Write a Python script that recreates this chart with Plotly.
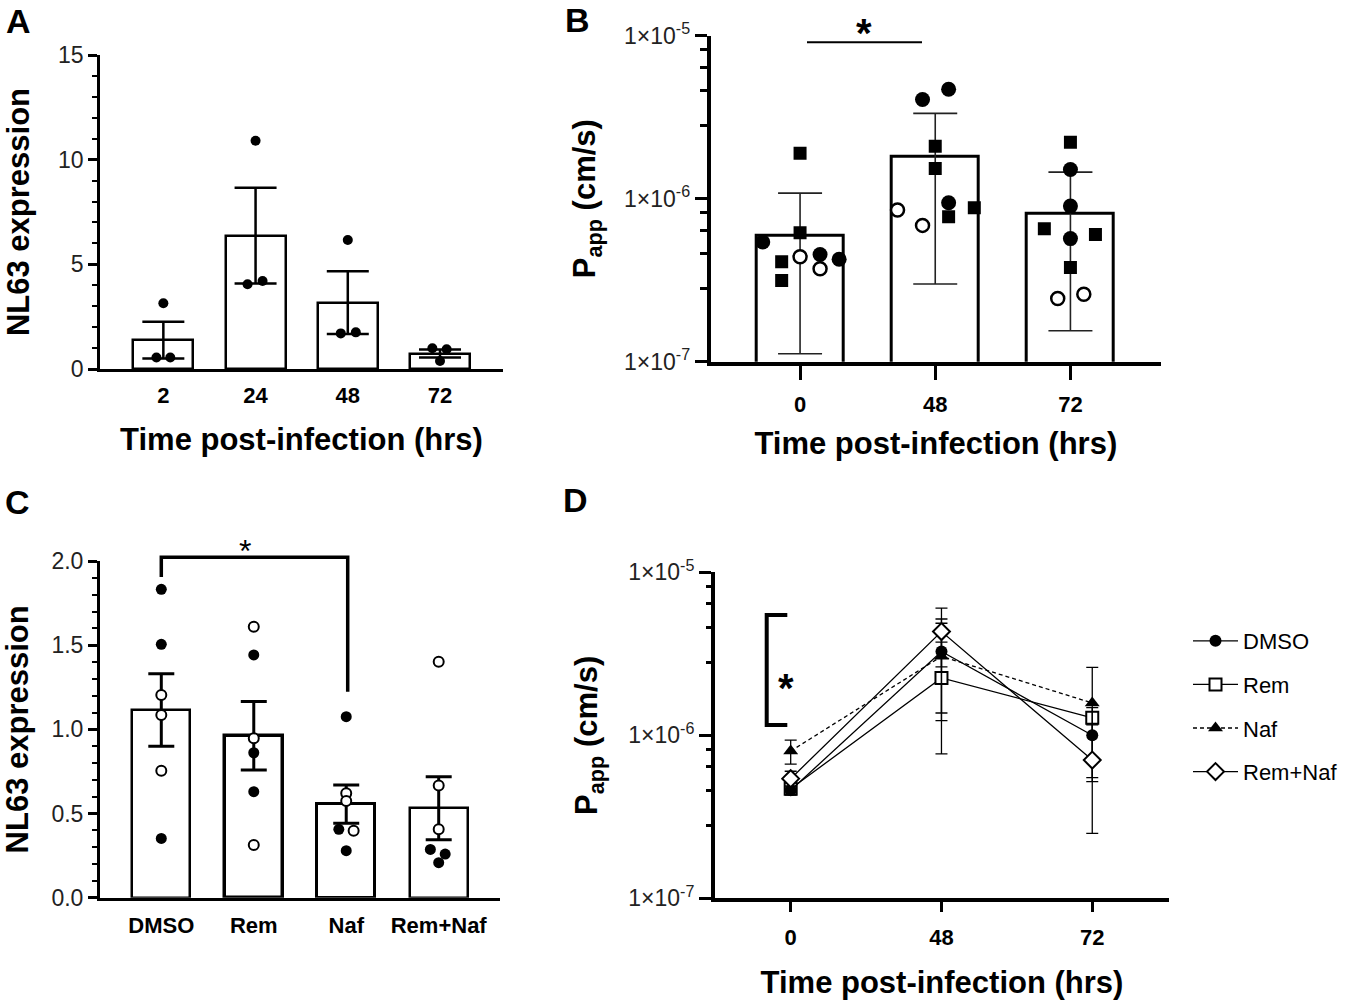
import plotly.graph_objects as go

W, H = 1350, 1003
FONT = "Liberation Sans, Arial, Helvetica, sans-serif"

# ---------------- Panel A data ----------------
a_times = ["2", "24", "48", "72"]
a_means = [1.38, 6.37, 3.17, 0.74]
a_sem = [0.88, 2.29, 1.50, 0.19]
a_points = [[3.14, 0.55, 0.55], [10.9, 4.05, 4.20], [6.16, 1.70, 1.75], [0.99, 0.94, 0.38]]
a_jitter = [[0, -0.075, 0.075], [0, -0.087, 0.076], [0, -0.076, 0.087], [-0.083, 0.072, 0]]

# ---------------- Panel B data ----------------
b_times = ["0", "48", "72"]
b_means = [5.97e-7, 1.82e-6, 8.05e-7]
b_sd = [4.85e-7, 1.52e-6, 6.5e-7]
b_values = [
    [1.90e-6, 6.18e-7, 4.10e-7, 3.15e-7, 5.42e-7, 4.55e-7, 4.25e-7, 4.40e-7, 3.72e-7],
    [4.06e-6, 4.69e-6, 9.45e-7, 2.10e-6, 1.53e-6, 8.80e-7, 7.76e-7, 8.52e-7, 6.86e-7],
    [2.22e-6, 6.55e-7, 6.04e-7, 3.78e-7, 1.51e-6, 9.01e-7, 5.69e-7, 2.59e-7, 2.44e-7],
]
b_kind = [
    ["sq", "sq", "sq", "sq", "fc", "fc", "fc", "oc", "oc"],
    ["fc", "fc", "fc", "sq", "sq", "sq", "sq", "oc", "oc"],
    ["sq", "sq", "sq", "sq", "fc", "fc", "fc", "oc", "oc"],
]
b_jitter = [
    [0, 0, -0.136, -0.136, -0.276, 0.148, 0.289, 0, 0.148],
    [-0.094, 0.099, 0.099, 0, 0, 0.289, 0.099, -0.279, -0.094],
    [0, -0.193, 0.185, 0, 0, 0, 0, 0.099, -0.094],
]

# ---------------- Panel C data ----------------
c_groups = ["DMSO", "Rem", "Naf", "Rem+Naf"]
c_means = [1.115, 0.962, 0.556, 0.531]
c_sem = [0.216, 0.203, 0.114, 0.187]
c_points = [
    [1.832, 1.505, 1.204, 1.085, 0.754, 0.352],
    [1.610, 1.442, 0.947, 0.861, 0.630, 0.313],
    [1.075, 0.620, 0.575, 0.406, 0.398, 0.279],
    [1.402, 0.667, 0.406, 0.287, 0.259, 0.208],
]
c_filled = [
    [1, 1, 0, 0, 0, 1],
    [0, 1, 0, 1, 1, 0],
    [1, 0, 0, 1, 0, 1],
    [0, 0, 0, 1, 1, 1],
]
c_jitter = [
    [0, 0, 0, 0, 0, 0],
    [0, 0, 0, 0, 0, 0],
    [0, 0, 0, -0.08, 0.08, 0],
    [0, 0, 0, -0.09, 0.07, 0],
]
c_outline = [2.5, 3.5, 3.0, 2.5]

# ---------------- Panel D data ----------------
d_times = ["0", "48", "72"]
d_series = ["DMSO", "Rem", "Naf", "Rem+Naf"]
d_dmso = [4.60e-7, 3.27e-6, 1.00e-6]
d_dmso_err = [0.30e-7, 1.90e-6, 4.80e-7]
d_rem = [4.70e-7, 2.25e-6, 1.28e-6]
d_rem_err = [0.30e-7, 1.48e-6, 1.00e-7]
d_naf = [8.00e-7, 3.05e-6, 1.58e-6]
d_naf_err = [1.35e-7, 1.82e-6, 1.03e-6]
d_remnaf = [5.42e-7, 4.33e-6, 7.05e-7]
d_remnaf_err = [0.60e-7, 1.70e-6, 4.55e-7]

log_ticks = [1e-7, 1e-6, 1e-5]
log_ticktext = ["1×10<sup>-7</sup>", "1×10<sup>-6</sup>", "1×10<sup>-5</sup>"]
log_minor = [m * d for d in (1e-7, 1e-6) for m in (2.8, 4.6, 6.4, 8.2)]


def fx(p):
    return p / W


def fy(p):
    return 1 - p / H


fig = go.Figure()

# ---------- A ----------
fig.add_trace(go.Bar(
    x=list(range(len(a_times))), y=a_means, width=0.65,
    marker=dict(color="white", line=dict(color="black", width=2.5)),
    error_y=dict(type="data", array=a_sem, color="black", thickness=2.5, width=21),
    xaxis="x", yaxis="y", showlegend=False))
ax_, ay_ = [], []
for i, (pts, jit) in enumerate(zip(a_points, a_jitter)):
    for v, j in zip(pts, jit):
        ax_.append(i + j)
        ay_.append(v)
fig.add_trace(go.Scatter(x=ax_, y=ay_, mode="markers",
                         marker=dict(symbol="circle", size=10, color="black"),
                         xaxis="x", yaxis="y", showlegend=False))

# ---------- B ----------
fig.add_trace(go.Bar(
    x=list(range(len(b_times))), y=b_means, width=0.644,
    marker=dict(color="white", line=dict(color="black", width=3)),
    error_y=dict(type="data", array=b_sd, color="#222", thickness=1.6, width=22),
    xaxis="x2", yaxis="y2", showlegend=False))
kind_style = {
    "sq": dict(symbol="square", size=13, color="black", line=dict(color="black", width=0)),
    "fc": dict(symbol="circle", size=15, color="black", line=dict(color="black", width=0)),
    "oc": dict(symbol="circle", size=13, color="white", line=dict(color="black", width=2.5)),
}
for k in ["sq", "fc", "oc"]:
    xs, ys = [], []
    for i in range(len(b_times)):
        for v, kk, j in zip(b_values[i], b_kind[i], b_jitter[i]):
            if kk == k:
                xs.append(i + j)
                ys.append(v)
    fig.add_trace(go.Scatter(x=xs, y=ys, mode="markers", marker=kind_style[k],
                             xaxis="x2", yaxis="y2", showlegend=False))

# ---------- C ----------
fig.add_trace(go.Bar(
    x=list(range(len(c_groups))), y=c_means, width=0.63,
    marker=dict(color="white", line=dict(color="black", width=c_outline)),
    error_y=dict(type="data", array=c_sem, color="black", thickness=3, width=13),
    xaxis="x3", yaxis="y3", showlegend=False))
for filled in (1, 0):
    xs, ys = [], []
    for i in range(len(c_groups)):
        for v, f, j in zip(c_points[i], c_filled[i], c_jitter[i]):
            if f == filled:
                xs.append(i + j)
                ys.append(v)
    mk = (dict(symbol="circle", size=11, color="black") if filled else
          dict(symbol="circle", size=10, color="white", line=dict(color="black", width=2)))
    fig.add_trace(go.Scatter(x=xs, y=ys, mode="markers", marker=mk,
                             xaxis="x3", yaxis="y3", showlegend=False))

# ---------- D ----------
d_x = list(range(len(d_times)))
d_specs = [
    ("Rem", d_rem, d_rem_err, dict(symbol="square", size=12, color="white", line=dict(color="black", width=2)), "solid", 2),
    ("DMSO", d_dmso, d_dmso_err, dict(symbol="circle", size=12, color="black", line=dict(color="black", width=0)), "solid", 1),
    ("Naf", d_naf, d_naf_err, dict(symbol="triangle-up", size=13, color="black", line=dict(color="black", width=0)), "4px,3px", 3),
    ("Rem+Naf", d_remnaf, d_remnaf_err, dict(symbol="diamond", size=13, color="white", line=dict(color="black", width=2)), "solid", 4),
]
for name, vals, errs, mk, dash, rank in d_specs:
    fig.add_trace(go.Scatter(
        x=d_x, y=vals, name=name, mode="lines+markers",
        line=dict(color="black", width=1.3, dash=dash), marker=mk,
        error_y=dict(type="data", array=errs, color="black", thickness=1.3, width=6),
        xaxis="x4", yaxis="y4", legendgroup=name, legendrank=rank, showlegend=True))

# ---------- axes ----------
ytickfont = dict(family=FONT, size=23, color="#222")
xtickfont = dict(family=FONT, size=22, color="black", weight="bold")
titlefont = dict(family=FONT, size=31, color="black", weight="bold")

common = dict(showgrid=False, zeroline=False, showline=True, linecolor="black", automargin=False)

fig.update_layout(
    width=W, height=H, margin=dict(l=0, r=0, t=0, b=0),
    paper_bgcolor="white", plot_bgcolor="white",
    font=dict(family=FONT, color="black"),
    bargap=0,
    xaxis=dict(**common, domain=[fx(100), fx(503)], range=[-0.687, 3.683], anchor="y",
               linewidth=2.5, ticks="", tickvals=list(range(4)), ticktext=a_times,
               tickfont=xtickfont, ticklabelstandoff=5,
               title=dict(text="Time post-infection (hrs)", font=titlefont, standoff=22)),
    yaxis=dict(**common, domain=[fy(369), fy(55)], range=[0, 15], anchor="x",
               linewidth=2.5, ticks="outside", ticklen=9, tickwidth=2.5, tickcolor="black",
               tickvals=[0, 5, 10, 15], tickfont=ytickfont,
               minor=dict(ticks="outside", dtick=1, ticklen=5, tickwidth=2, tickcolor="black"),
               title=dict(text="NL63 expression", font=titlefont, standoff=20)),
    xaxis2=dict(**common, domain=[fx(710.7), fx(1161)], range=[-0.661, 2.67], anchor="y2",
                linewidth=4, ticks="outside", ticklen=14, tickwidth=3, tickcolor="black",
                tickvals=list(range(3)), ticktext=b_times, tickfont=xtickfont,
                ticklabelstandoff=6,
                title=dict(text="Time post-infection (hrs)", font=titlefont, standoff=17)),
    yaxis2=dict(**common, type="log", domain=[fy(361.7), fy(35.7)], range=[-7, -5], anchor="x2",
                linewidth=4, ticks="outside", ticklen=12, tickwidth=3, tickcolor="black",
                tickvals=log_ticks, ticktext=log_ticktext, tickfont=ytickfont,
                minor=dict(ticks="outside", tickmode="array", tickvals=log_minor,
                           ticklen=7, tickwidth=3, tickcolor="black"),
                title=dict(text="P<sub>app</sub> (cm/s)", font=titlefont, standoff=20)),
    xaxis3=dict(**common, domain=[fx(100), fx(500)], range=[-0.663, 3.663], anchor="y3",
                linewidth=3, ticks="", tickvals=list(range(4)), ticktext=c_groups,
                tickfont=xtickfont, ticklabelstandoff=6),
    yaxis3=dict(**common, domain=[fy(897.7), fy(561)], range=[0, 2], anchor="x3",
                linewidth=3, ticks="outside", ticklen=9, tickwidth=2.5, tickcolor="black",
                tickvals=[0, 0.5, 1, 1.5, 2], tickformat=".1f", tickfont=ytickfont,
                minor=dict(ticks="outside", dtick=0.1, ticklen=5, tickwidth=2, tickcolor="black"),
                title=dict(text="NL63 expression", font=titlefont, standoff=18)),
    xaxis4=dict(**common, domain=[fx(715), fx(1169)], range=[-0.502, 2.509], anchor="y4",
                linewidth=4, ticks="outside", ticklen=10, tickwidth=3, tickcolor="black",
                tickvals=d_x, ticktext=d_times, tickfont=xtickfont, ticklabelstandoff=6,
                title=dict(text="Time post-infection (hrs)", font=titlefont, standoff=24)),
    yaxis4=dict(**common, type="log", domain=[fy(898.3), fy(572.3)], range=[-7, -5], anchor="x4",
                linewidth=4, ticks="outside", ticklen=12, tickwidth=3, tickcolor="black",
                tickvals=log_ticks, ticktext=log_ticktext, tickfont=ytickfont,
                minor=dict(ticks="outside", tickmode="array", tickvals=log_minor,
                           ticklen=5, tickwidth=3, tickcolor="black"),
                title=dict(text="P<sub>app</sub> (cm/s)", font=titlefont, standoff=22)),
    legend=dict(x=fx(1188), y=fy(620), xanchor="left", yanchor="top",
                font=dict(family=FONT, size=22, color="black"), itemwidth=45,
                traceorder="grouped", tracegroupgap=12, bgcolor="rgba(0,0,0,0)"),
)

# ---------- panel letters and significance marks ----------
letters = [("A", 18, 21), ("B", 577, 20), ("C", 17, 502), ("D", 575, 500)]
anns = []
for t, px, py in letters:
    anns.append(dict(text=t, x=fx(px), y=fy(py), xref="paper", yref="paper",
                     xanchor="center", yanchor="middle", showarrow=False,
                     font=dict(family=FONT, size=34, color="black", weight="bold")))
for px, py, sz, wt in [(864, 33, 40, "bold"), (245, 551, 32, "normal"), (786, 688, 40, "bold")]:
    anns.append(dict(text="*", x=fx(px), y=fy(py), xref="paper", yref="paper",
                     xanchor="center", yanchor="middle", showarrow=False,
                     font=dict(family=FONT, size=sz, color="black", weight=wt)))
fig.update_layout(annotations=anns)


def path(pts):
    return "M " + " L ".join(f"{fx(a):.5f},{fy(b):.5f}" for a, b in pts)


fig.update_layout(shapes=[
    dict(type="line", xref="paper", yref="paper", x0=fx(807), x1=fx(922), y0=fy(42.3), y1=fy(42.3),
         line=dict(color="black", width=2)),
    dict(type="path", xref="paper", yref="paper",
         path=path([(161.3, 577), (161.3, 557.3), (347.7, 557.3), (347.7, 691.7)]),
         line=dict(color="black", width=3.5)),
    dict(type="path", xref="paper", yref="paper",
         path=path([(787.3, 615), (766.7, 615), (766.7, 725), (787.3, 725)]),
         line=dict(color="black", width=4)),
])

fig.write_html("out.html", config={"displayModeBar": False},
               post_script="document.body.style.margin='0';")
